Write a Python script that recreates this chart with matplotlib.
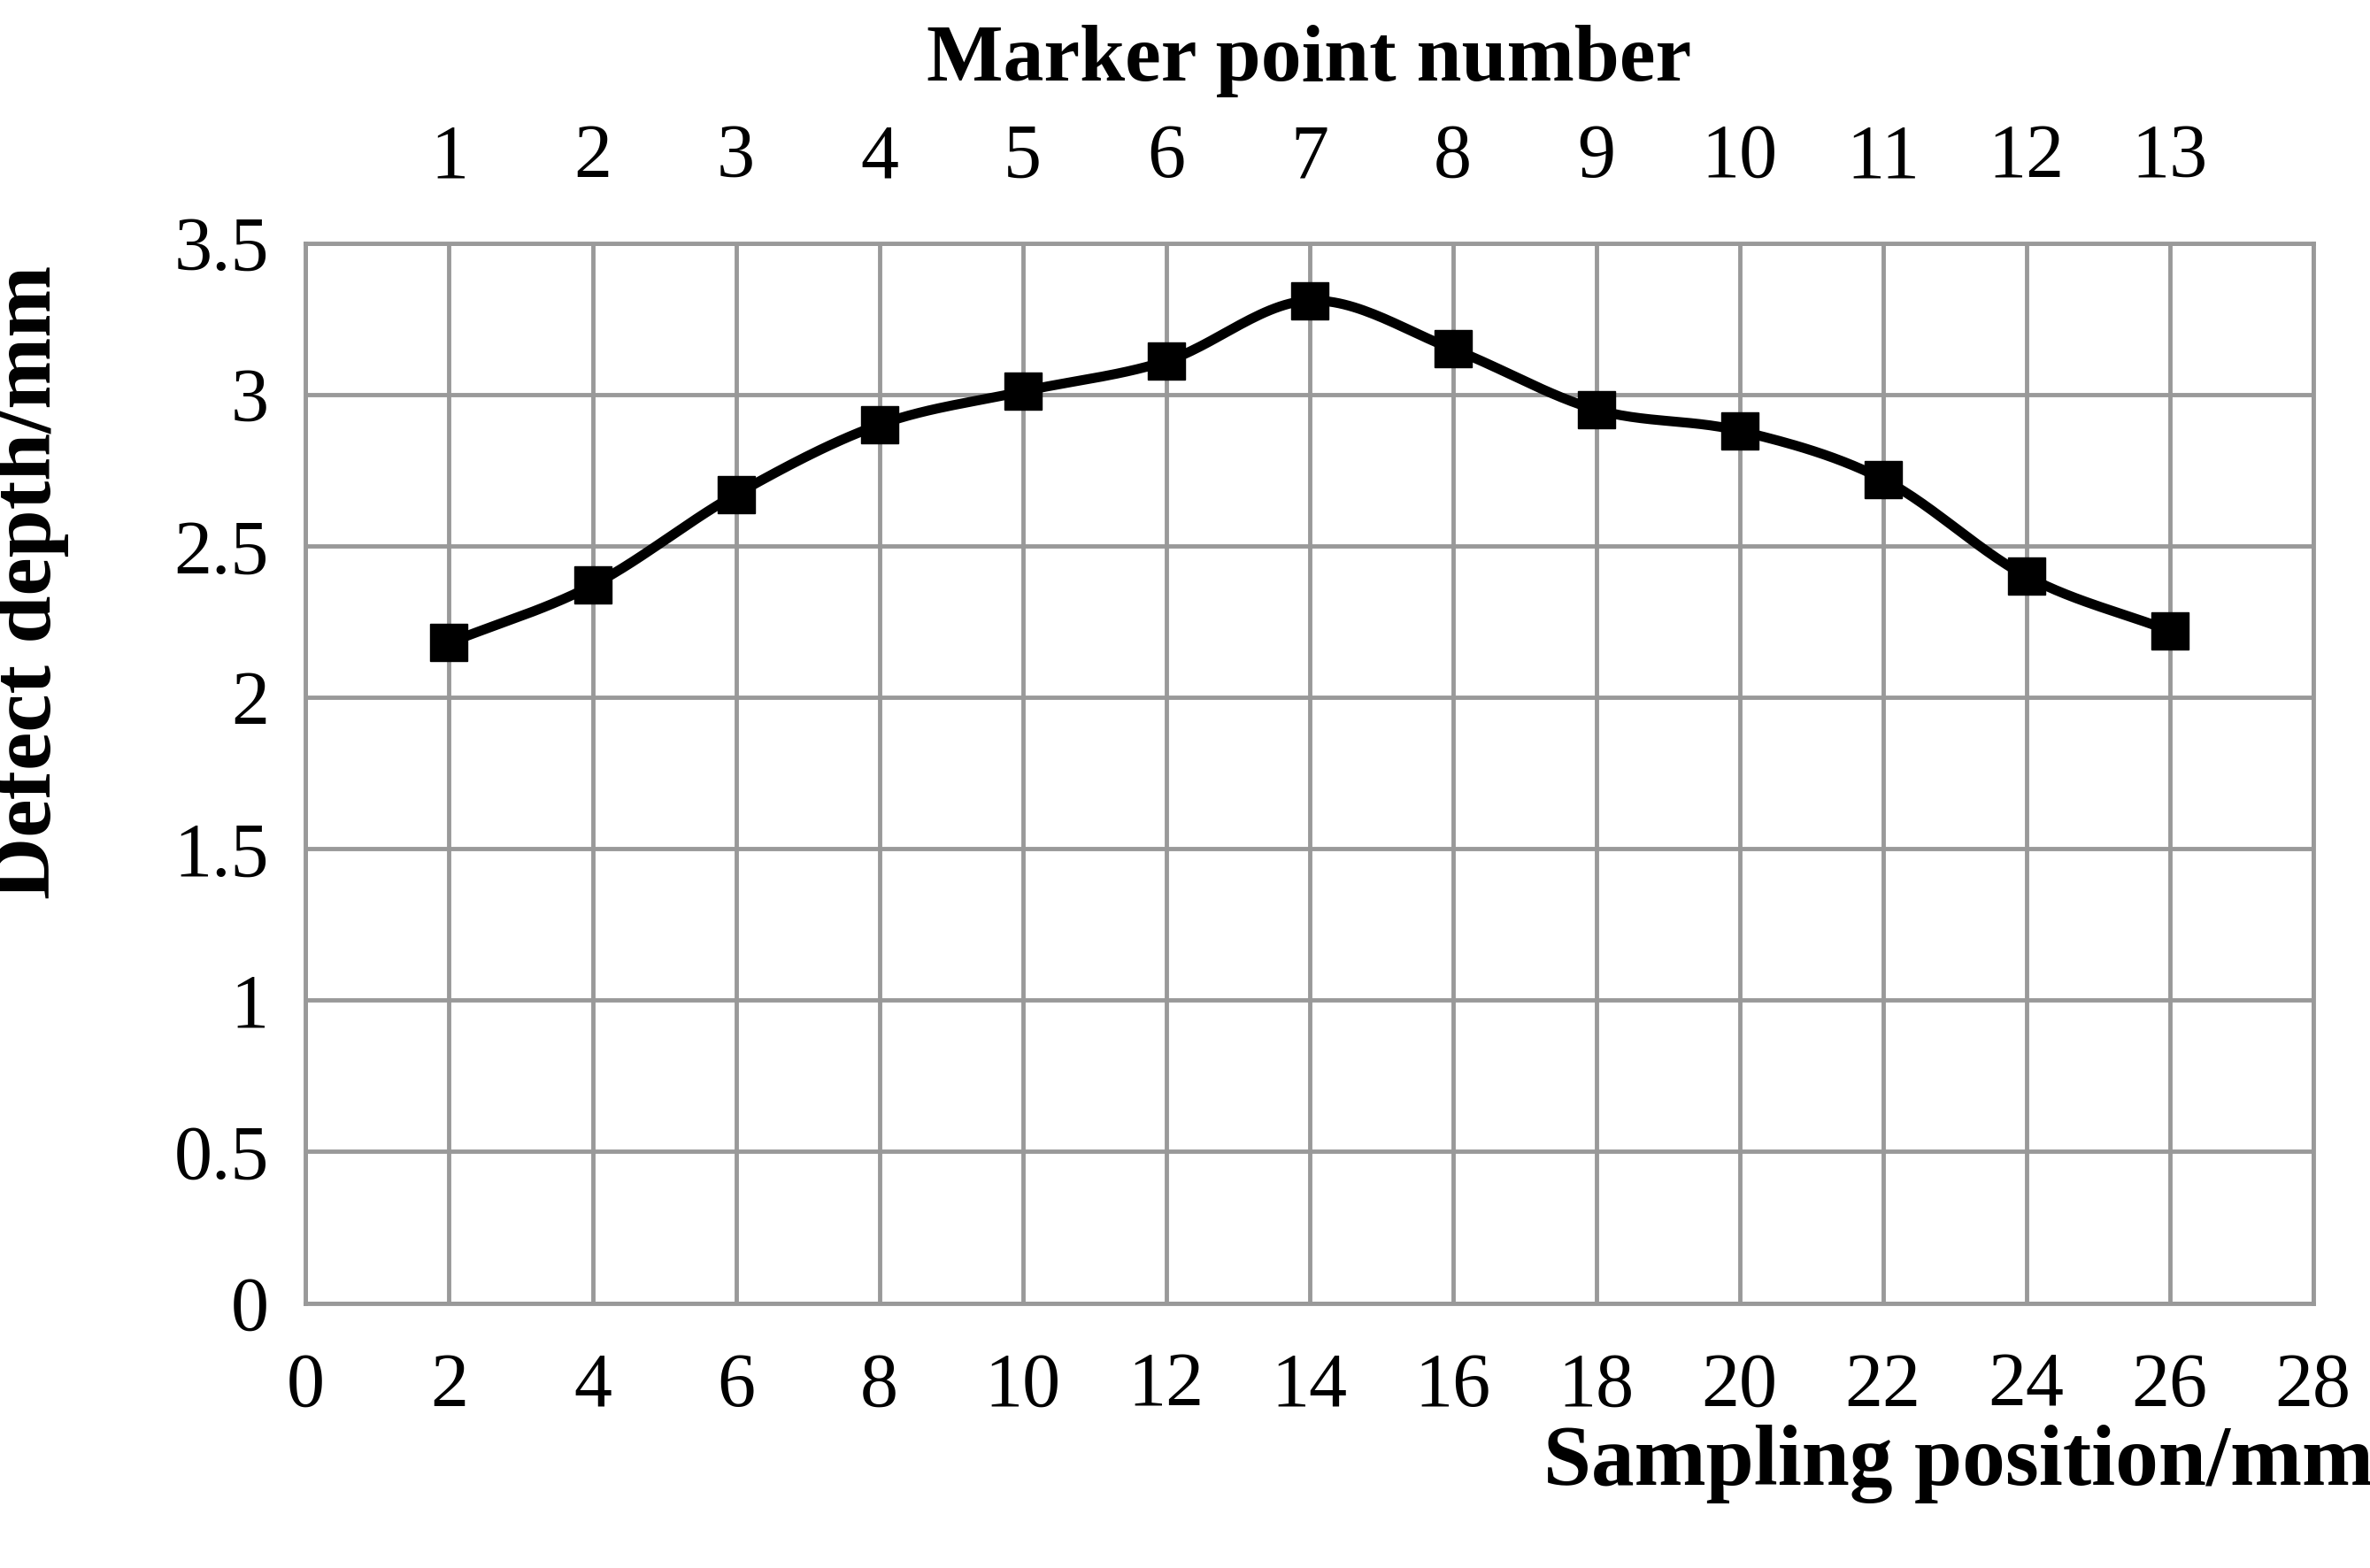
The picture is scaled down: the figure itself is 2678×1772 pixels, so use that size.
import numpy as np
import matplotlib
matplotlib.use("Agg")
import matplotlib.pyplot as plt

positions = [2, 4, 6, 8, 10, 12, 14, 16, 18, 20, 22, 24, 26]
depths = [2.18, 2.37, 2.67, 2.90, 3.01, 3.11, 3.31, 3.15, 2.95, 2.88, 2.72, 2.40, 2.22]
marker_numbers = [str(i) for i in range(1, 14)]

plt.rcParams['font.family'] = ['Liberation Serif', 'DejaVu Serif']

fig = plt.figure(figsize=(26.78, 17.72), dpi=100)
ax = fig.add_axes([0.129, 0.169, 0.847, 0.676])

x = np.array(positions, float); y = np.array(depths, float)
px = np.concatenate([[2*x[0]-x[1]], x, [2*x[-1]-x[-2]]])
py = np.concatenate([[2*y[0]-y[1]], y, [2*y[-1]-y[-2]]])
sx, sy = [], []
t = np.linspace(0, 1, 30)
for i in range(1, len(px)-2):
    p0, p1, p2, p3 = [np.array([px[j], py[j]]) for j in range(i-1, i+3)]
    for tt in t:
        pt = 0.5*((2*p1) + (-p0+p2)*tt + (2*p0-5*p1+4*p2-p3)*tt**2 + (-p0+3*p1-3*p2+p3)*tt**3)
        sx.append(pt[0]); sy.append(pt[1])
ax.plot(sx, sy, color='black', lw=8, zorder=3)
ax.plot(positions, depths, 's', color='black', ms=30, zorder=4)

ax.set_xlim(0, 28)
ax.set_ylim(0, 3.5)
ax.set_xticks(range(0, 29, 2))
ax.set_yticks(np.arange(0, 3.51, 0.5))
ax.set_yticklabels(['0', '0.5', '1', '1.5', '2', '2.5', '3', '3.5'])
ax.grid(True, color='#999999', lw=3.5)
ax.set_axisbelow(True)
for s in ax.spines.values():
    s.set_color('#999999'); s.set_linewidth(3.5)
ax.tick_params(length=0, labelsize=62, pad=40)
ax.tick_params(axis='y', pad=30)

ax.set_xlabel('Sampling position/mm', fontsize=70, fontweight='bold')
ax.xaxis.set_label_coords(1.03, -0.115)
ax.xaxis.label.set_horizontalalignment('right')
ax.set_ylabel('Defect depth/mm', fontsize=70, fontweight='bold')
ax.yaxis.set_label_coords(-0.118, 0.68)

ax2 = ax.twiny()
ax2.set_xlim(0, 28)
ax2.set_xticks(positions)
ax2.set_xticklabels(marker_numbers)
ax2.tick_params(length=0, labelsize=62, pad=40)
for s in ax2.spines.values():
    s.set_visible(False)
ax2.set_xlabel('Marker point number', fontsize=66, fontweight='bold', labelpad=35)

fig.savefig('out.png', dpi=100, facecolor='white')
